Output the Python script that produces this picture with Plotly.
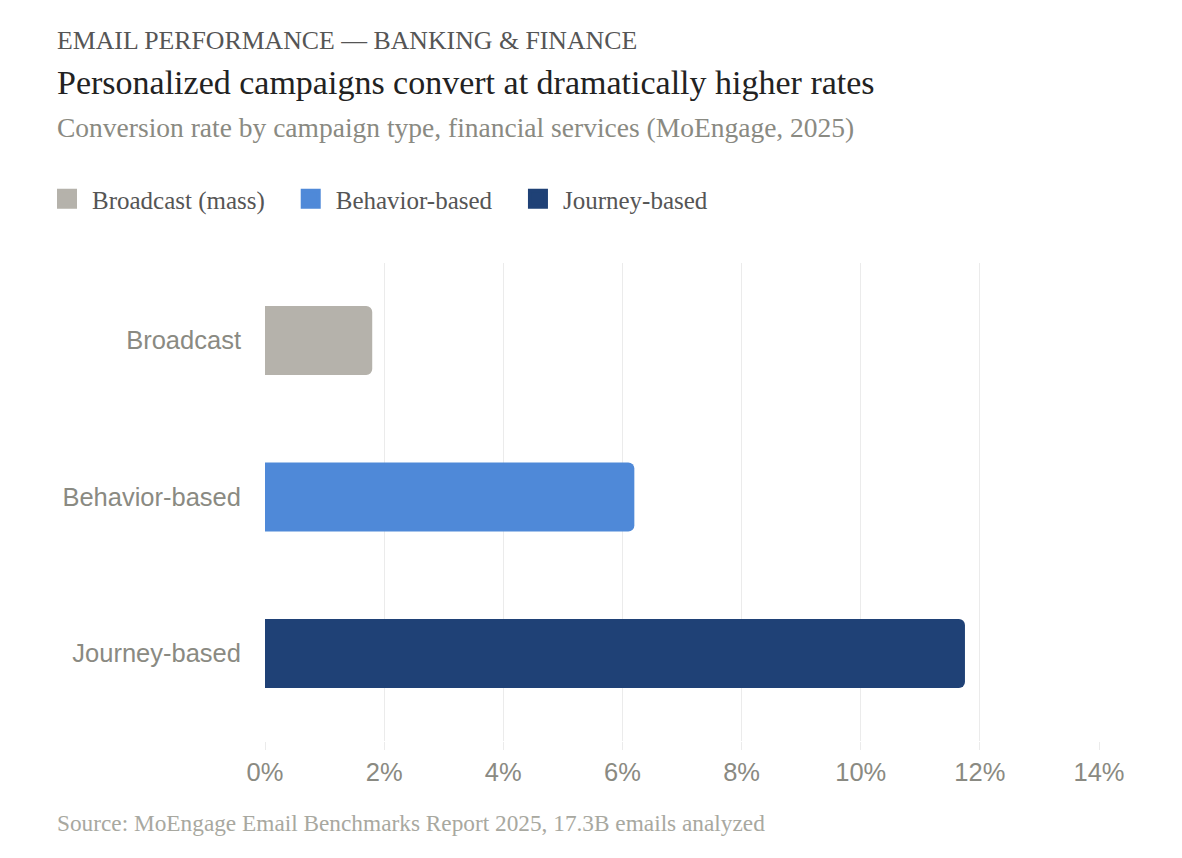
import plotly.graph_objects as go

categories = ["Broadcast", "Behavior-based", "Journey-based"]
legend_names = ["Broadcast (mass)", "Behavior-based", "Journey-based"]
conversion_rate = [1.8, 6.2, 11.75]
colors = ["#b5b2ab", "#4f89d8", "#1f4176"]
tick_values = [0, 2, 4, 6, 8, 10, 12, 14]
tick_labels = [f"{v}%" for v in tick_values]

SERIF = "Liberation Serif"
SANS = "Liberation Sans"

# page body adds an 8px margin, so the figure is a bit smaller than the window
W, H = 1174, 850
L, R, T, B = 257, 83, 255, 117
plot_h = H - T - B
plot_w = W - L - R


def px_x(p):
    return (p - L) / plot_w


def px_y(p):
    return (H - B - p) / plot_h


fig = go.Figure()

fig.add_trace(
    go.Bar(
        x=conversion_rate,
        y=categories,
        orientation="h",
        width=0.44,
        marker=dict(color=colors, cornerradius=6, line=dict(width=0)),
        showlegend=False,
        hoverinfo="x+y",
    )
)

# legend entries only (thin space before, padding after to spread the items)
for name, color in zip(legend_names, colors):
    fig.add_trace(
        go.Scatter(
            x=[None],
            y=[None],
            mode="markers",
            name="\u2009" + name + "&nbsp;" * 3 + "\u200a",
            marker=dict(symbol="square", size=16, color=color, line=dict(color=color, width=4)),
        )
    )

fig.update_xaxes(
    range=[0, 14],
    tickvals=tick_values,
    ticktext=tick_labels,
    showgrid=True,
    gridcolor="#ebebeb",
    gridwidth=1,
    zeroline=False,
    showline=False,
    ticks="outside",
    ticklen=8,
    tickcolor="#ebebeb",
    tickfont=dict(family=SANS, size=25.5, color="#8a8a82"),
)
fig.update_yaxes(
    type="category",
    categoryorder="array",
    categoryarray=categories,
    range=[2.559, -0.4955],
    showgrid=False,
    zeroline=False,
    showline=False,
    ticks="",
    ticklabelstandoff=23,
    tickfont=dict(family=SANS, size=25.5, color="#8a8a82"),
)

texts = [
    ("EMAIL PERFORMANCE — BANKING &amp; FINANCE", 32, 25.8, "#555555"),
    ("Personalized campaigns convert at dramatically higher rates", 74, 34, "#222222"),
    ("Conversion rate by campaign type, financial services (MoEngage, 2025)", 120, 27.5, "#8a8a82"),
    ("Source: MoEngage Email Benchmarks Report 2025, 17.3B emails analyzed", 815, 23.3, "#a8a8a0"),
]
for text, y, size, color in texts:
    fig.add_annotation(
        text=text,
        x=px_x(47),
        y=px_y(y),
        xref="paper",
        yref="paper",
        xanchor="left",
        yanchor="middle",
        showarrow=False,
        font=dict(family=SERIF, size=size, color=color),
    )

fig.update_layout(
    width=W,
    height=H,
    margin=dict(l=L, r=R, t=T, b=B),
    paper_bgcolor="white",
    plot_bgcolor="white",
    legend=dict(
        orientation="h",
        x=px_x(39),
        y=px_y(191),
        xanchor="left",
        yanchor="middle",
        font=dict(family=SERIF, size=25, color="#555555"),
        bgcolor="rgba(0,0,0,0)",
    ),
)

fig.write_html("out.html")
